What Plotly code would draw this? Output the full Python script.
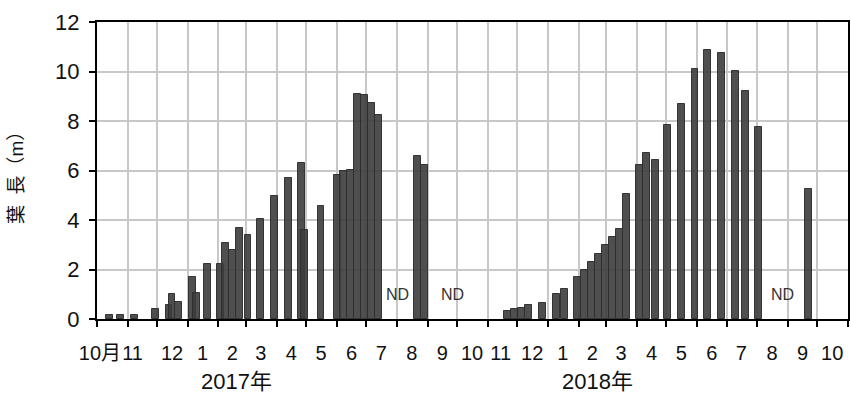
import plotly.graph_objects as go

# Measurement dates and leaf length (m)
dates = [
    "2016-10-14", "2016-10-25", "2016-11-08", "2016-11-29", "2016-12-13",
    "2016-12-16", "2016-12-23", "2017-01-06", "2017-01-10", "2017-01-21",
    "2017-02-03", "2017-02-08", "2017-02-15", "2017-02-22", "2017-03-03",
    "2017-03-16", "2017-03-30", "2017-04-13", "2017-04-26", "2017-04-29",
    "2017-05-16", "2017-06-02", "2017-06-08", "2017-06-15", "2017-06-22",
    "2017-06-29", "2017-07-06", "2017-07-13", "2017-08-22", "2017-08-29",
    "2017-11-21", "2017-11-28", "2017-12-05", "2017-12-12", "2017-12-26",
    "2018-01-10", "2018-01-18", "2018-01-31", "2018-02-07", "2018-02-14",
    "2018-02-21", "2018-02-28", "2018-03-07", "2018-03-14", "2018-03-22",
    "2018-04-04", "2018-04-11", "2018-04-20", "2018-05-02", "2018-05-16",
    "2018-05-30", "2018-06-12", "2018-06-26", "2018-07-10", "2018-07-20",
    "2018-08-02", "2018-09-22",
]
leaf_length = [
    0.15, 0.15, 0.15, 0.39, 0.55,
    1.00, 0.69, 1.68, 1.04, 2.22,
    2.22, 3.08, 2.77, 3.67, 3.41,
    4.03, 4.96, 5.70, 6.30, 3.59,
    4.57, 5.83, 6.00, 6.04, 9.10,
    9.06, 8.73, 8.25, 6.59, 6.21,
    0.34, 0.39, 0.44, 0.55, 0.64,
    1.00, 1.21, 1.68, 2.00, 2.32,
    2.63, 2.97, 3.30, 3.65, 5.04,
    6.21, 6.72, 6.42, 7.85, 8.67,
    10.09, 10.87, 10.75, 10.04, 9.23,
    7.77, 5.25,
]

# No-data periods
nd_dates = ["2017-08-02", "2017-09-26", "2018-08-27"]
nd_labels = ["ND", "ND", "ND"]

# Month boundaries (grid/ticks) and month labels
month_starts = [
    "2016-10-01", "2016-11-01", "2016-12-01", "2017-01-01", "2017-02-01",
    "2017-03-01", "2017-04-01", "2017-05-01", "2017-06-01", "2017-07-01",
    "2017-08-01", "2017-09-01", "2017-10-01", "2017-11-01", "2017-12-01",
    "2018-01-01", "2018-02-01", "2018-03-01", "2018-04-01", "2018-05-01",
    "2018-06-01", "2018-07-01", "2018-08-01", "2018-09-01", "2018-10-01",
    "2018-11-01",
]
# label anchors; the first two sit left of mid-month so "10月" fits
month_label_pos = [
    "2016-10-04", "2016-11-06", "2016-12-16", "2017-01-16", "2017-02-15",
    "2017-03-16", "2017-04-16", "2017-05-16", "2017-06-16", "2017-07-16",
    "2017-08-16", "2017-09-16", "2017-10-16", "2017-11-14", "2017-12-16",
    "2018-01-16", "2018-02-15", "2018-03-16", "2018-04-16", "2018-05-16",
    "2018-06-16", "2018-07-16", "2018-08-16", "2018-09-16", "2018-10-16",
]
month_labels = [
    "10月", "11", "12", "1", "2", "3", "4", "5", "6", "7", "8", "9", "10",
    "11", "12", "1", "2", "3", "4", "5", "6", "7", "8", "9", "10",
]
year_labels = ["2017年", "2018年"]
year_label_dates = ["2017-02-19", "2018-02-20"]

y_ticks = [0, 2, 4, 6, 8, 10, 12]

FONT = "Liberation Sans, Arial, Noto Sans CJK JP, sans-serif"
GRID = "#c8c8c8"
BAR_WIDTH_MS = 7 * 24 * 3600 * 1000

fig = go.Figure()
fig.add_trace(go.Bar(
    x=dates,
    y=leaf_length,
    width=[BAR_WIDTH_MS] * len(dates),
    marker=dict(color="rgba(60,60,60,0.9)",
                line=dict(color="rgba(45,45,45,0.95)", width=1)),
    xaxis="x", yaxis="y",
    showlegend=False,
))
# carrier for the month-label axis
fig.add_trace(go.Scatter(
    x=[month_label_pos[0]], y=[None], mode="markers",
    xaxis="x2", yaxis="y", showlegend=False, hoverinfo="skip",
))

for d, t in zip(nd_dates, nd_labels):
    fig.add_annotation(x=d, y=1.0, xref="x", yref="y", text=t,
                       showarrow=False, font=dict(family=FONT, size=16, color="#333"))

for d, t in zip(year_label_dates, year_labels):
    fig.add_annotation(x=d, y=-0.212, xref="x", yref="paper", text=t,
                       showarrow=False, yanchor="middle",
                       font=dict(family=FONT, size=22, color="#111"))

fig.add_annotation(x=-0.107, y=0.49, xref="paper", yref="paper",
                   xanchor="center", yanchor="middle",
                   text="葉\u00a0\u00a0長（m）", textangle=-90, showarrow=False,
                   font=dict(family=FONT, size=19, color="#111"))

x_range = [month_starts[0], month_starts[-1]]

fig.update_layout(
    width=851, height=396,
    margin=dict(l=97, r=1, t=22, b=77),
    plot_bgcolor="white", paper_bgcolor="white",
    bargap=0,
    font=dict(family=FONT, size=20, color="#111"),
    xaxis=dict(
        type="date", range=x_range,
        tickmode="array", tickvals=month_starts, showticklabels=False,
        showgrid=True, gridcolor=GRID, gridwidth=1.5,
        ticks="outside", ticklen=6, tickwidth=1.5, tickcolor="black",
        showline=True, linecolor="black", linewidth=2, mirror=True,
        zeroline=False,
    ),
    xaxis2=dict(
        type="date", range=x_range, overlaying="x", anchor="y", side="bottom",
        tickmode="array", tickvals=month_label_pos, ticktext=month_labels,
        tickangle=0,
        showgrid=False, ticks="", showline=False, zeroline=False,
        tickfont=dict(family=FONT, size=20, color="#111"),
        ticklabelstandoff=20,
    ),
    yaxis=dict(
        range=[0, 12], tickmode="array", tickvals=y_ticks,
        showgrid=True, gridcolor=GRID, gridwidth=1.5,
        ticks="outside", ticklen=6, tickwidth=1.5, tickcolor="black",
        showline=True, linecolor="black", linewidth=2, mirror=True,
        zeroline=False,
        tickfont=dict(family=FONT, size=22, color="#111"),
        ticklabelstandoff=5,
    ),
)

fig.write_html("out.html")
